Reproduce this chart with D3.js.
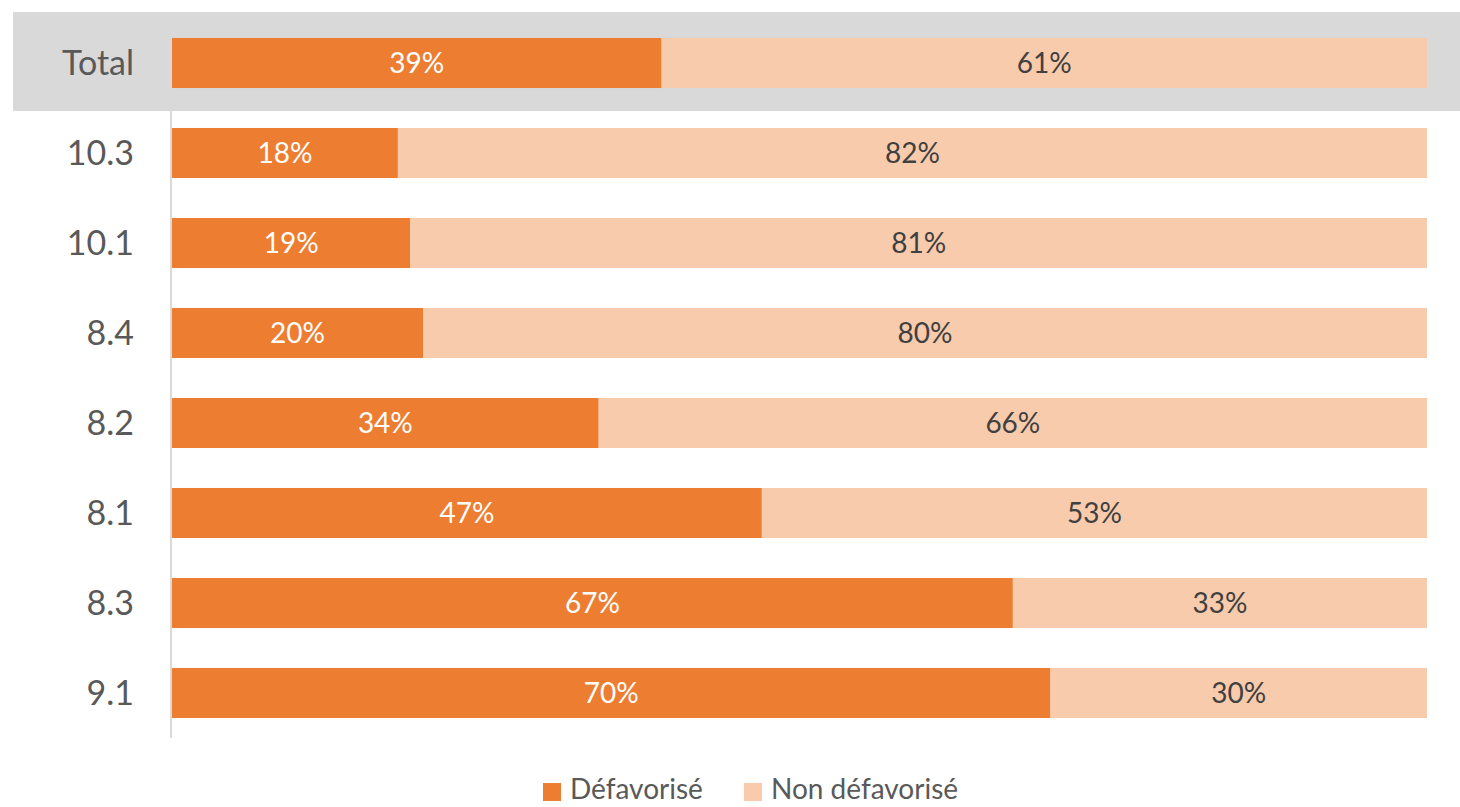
<!DOCTYPE html>
<html><head><meta charset="utf-8">
<script src="https://cdn.jsdelivr.net/npm/d3@7"></script>
<style>body{margin:0;background:#fff}svg{display:block}text{font-family:Lato,"Open Sans",sans-serif}</style>
</head><body><svg id="c" width="1460" height="807"></svg>
<script>
const categories = ["Total","10.3","10.1","8.4","8.2","8.1","8.3","9.1"];
const defavorise = [39,18,19,20,34,47,67,70];
const nonDefavorise = [61,82,81,80,66,53,33,30];
const seriesNames = ["Défavorisé","Non défavorisé"];
const colors = ["#ED7D31","#F8CBAD"];

const svg = d3.select("#c");
const x = d3.scaleLinear().domain([0,100]).range([172,1427]);
const y = d3.scaleBand().domain(categories).range([18,738]).paddingInner(0.444).paddingOuter(0.222);

// highlight band for Total
svg.append("rect").attr("x",13).attr("y",y("Total")+y.bandwidth()/2-51).attr("width",1447).attr("height",99).attr("fill","#D9D9D9");

// axis line
svg.append("line").attr("x1",171).attr("x2",171).attr("y1",18).attr("y2",738).attr("stroke","#D9D9D9").attr("stroke-width",2);

const rows = categories.map((c,i)=>({c, v:[defavorise[i], nonDefavorise[i]]}));
rows.forEach(r=>{
  let acc=0;
  r.v.forEach((v,j)=>{
    svg.append("rect").attr("x",x(acc)).attr("y",y(r.c)).attr("width",x(acc+v)-x(acc)).attr("height",y.bandwidth()).attr("fill",colors[j]);
    svg.append("text").attr("x",(x(acc)+x(acc+v))/2).attr("y",y(r.c)+y.bandwidth()/2).attr("dy","0.36em")
      .attr("text-anchor","middle").attr("font-size",28).attr("fill",j===0?"#fff":"#404040").text(v+"%");
    acc+=v;
  });
});

// category labels
svg.append("g").attr("transform","translate(134,0)").call(d3.axisLeft(y).tickSize(0).tickPadding(0))
  .call(g=>g.select(".domain").remove())
  .call(g=>g.selectAll("text").attr("font-size",34).attr("fill","#595959").attr("font-family","Lato,'Open Sans',sans-serif").attr("dy","0.36em"));

// legend
const leg = [{x:543,n:0},{x:744,n:1}];
leg.forEach(l=>{
  svg.append("rect").attr("x",l.x).attr("y",783).attr("width",18).attr("height",18).attr("fill",colors[l.n]);
  svg.append("text").attr("x",l.x+27).attr("y",799).attr("font-size",28).attr("fill","#595959").text(seriesNames[l.n]);
});
</script></body></html>
